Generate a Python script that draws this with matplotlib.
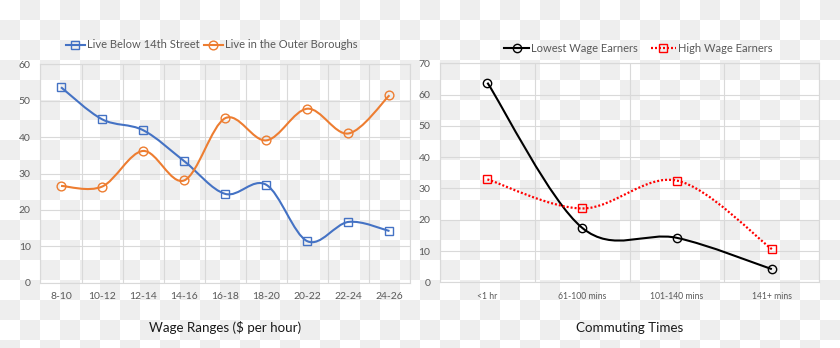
import numpy as np
import matplotlib
matplotlib.use("Agg")
import matplotlib.pyplot as plt
from matplotlib.path import Path
from matplotlib.patches import PathPatch
from matplotlib.lines import Line2D

plt.rcParams['font.family'] = ['Lato', 'DejaVu Sans']

# wage ranges chart
wage_ranges = ['8-10', '10-12', '12-14', '14-16', '16-18', '18-20', '20-22', '22-24', '24-26']
below_14th = [53.7, 44.9, 41.9, 33.4, 24.4, 26.9, 11.4, 16.7, 14.2]
outer_boroughs = [26.6, 26.4, 36.2, 28.1, 45.2, 39.1, 47.8, 41.0, 51.5]

# commuting times chart
commute_times = ['<1 hr', '61-100 mins', '101-140 mins', '141+ mins']
lowest_wage = [63.8, 17.4, 14.2, 4.2]
high_wage = [32.9, 23.6, 32.5, 10.6]

GRID = '#d9d9d9'
TICK = '#595959'


def smooth_path(xs, ys):
    # bezier segments through every point, catmull-rom style tangents
    pts = np.column_stack([xs, ys]).astype(float)
    n = len(pts)
    verts = [pts[0]]
    codes = [Path.MOVETO]
    for i in range(n - 1):
        p0 = pts[i - 1] if i > 0 else pts[i]
        p1 = pts[i]
        p2 = pts[i + 1]
        p3 = pts[i + 2] if i + 2 < n else pts[i + 1]
        verts += [p1 + (p2 - p0) / 6, p2 - (p3 - p1) / 6, p2]
        codes += [Path.CURVE4] * 3
    return Path(verts, codes)


def serie(ax, ys, color, marker, ms, ls='-', lw=1.5):
    xs = np.arange(len(ys))
    ax.add_patch(PathPatch(smooth_path(xs, ys), fill=False, edgecolor=color,
                           lw=lw, linestyle=ls, zorder=3))
    ax.plot(xs, ys, linestyle='none', marker=marker, ms=ms, mfc='none',
            mec=color, mew=1.0, zorder=4)
    return Line2D([], [], color=color, lw=lw, linestyle=ls, marker=marker,
                  ms=ms, mfc='none', mec=color, mew=1.0)


def style(ax, n, ymax, xsize):
    ax.set_facecolor('none')
    ax.set_xlim(-0.5, n - 0.5)
    ax.set_ylim(0, ymax)
    ax.set_yticks(np.arange(0, ymax + 1, 10))
    ax.set_xticks(np.arange(n))
    ax.set_xticks(np.arange(n + 1) - 0.5, minor=True)
    ax.grid(True, axis='y', which='major', color=GRID, lw=0.8)
    ax.grid(True, axis='x', which='minor', color=GRID, lw=0.8)
    ax.set_axisbelow(True)
    for s in ax.spines.values():
        s.set_color(GRID)
        s.set_linewidth(0.8)
    ax.tick_params(which='both', length=0)
    ax.tick_params(axis='y', pad=7, labelsize=7.5, labelcolor=TICK)
    ax.tick_params(axis='x', pad=7, labelsize=xsize, labelcolor=TICK)


fig = plt.figure(figsize=(8.4, 3.48), dpi=100)

# transparent-style checker background
r, c = np.indices((348, 840))
checker = np.where(((r // 20) + (c // 20)) % 2 == 1, 0.935, 1.0)
fig.figimage(np.dstack([checker] * 3), xo=0, yo=0, zorder=-10)

ax1 = fig.add_axes([0.0482, 0.1876, 0.4399, 0.6276])
style(ax1, len(wage_ranges), 60, 7.5)
ax1.set_xticklabels(wage_ranges)
h1 = serie(ax1, below_14th, '#4472c4', 's', 5.8)
h2 = serie(ax1, outer_boroughs, '#ed7d31', 'o', 6.3)
ax1.set_xlabel('Wage Ranges ($ per hour)', fontsize=9.6, color='#1a1a1a', labelpad=14)
fig.legend([h1, h2], ['Live Below 14th Street', 'Live in the Outer Boroughs'],
           loc='center', bbox_to_anchor=(0.252, 0.871), ncol=2, frameon=False,
           fontsize=8, labelcolor=TICK, handlelength=1.7, handletextpad=0.2,
           columnspacing=0.4, numpoints=1)

ax2 = fig.add_axes([0.5238, 0.1888, 0.4515, 0.6293])
style(ax2, len(commute_times), 70, 6.2)
ax2.set_xticklabels(commute_times)
h3 = serie(ax2, lowest_wage, '#000000', 'o', 6)
h4 = serie(ax2, high_wage, '#ff0000', 's', 5.5, ls=(0, (0.9, 0.9)), lw=1.6)
ax2.set_xlabel('Commuting Times', fontsize=9.6, color='#1a1a1a', labelpad=15)
fig.legend([h3, h4], ['Lowest Wage Earners', 'High Wage Earners'],
           loc='center', bbox_to_anchor=(0.76, 0.862), ncol=2, frameon=False,
           fontsize=8, labelcolor=TICK, handlelength=2.2, handletextpad=0.2,
           columnspacing=1.2, numpoints=1)

fig.savefig('out.png', dpi=100)
